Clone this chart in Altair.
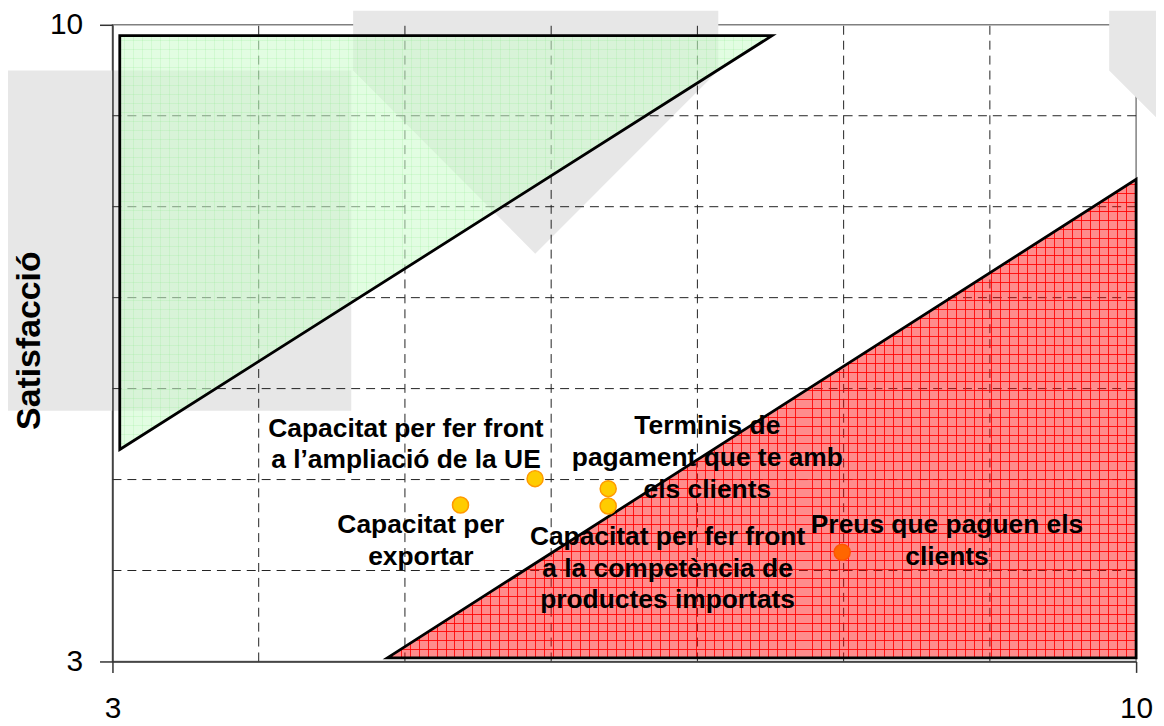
import altair as alt
import pandas as pd

# ---------------- data ----------------
x_domain = [3, 10]
y_domain = [3, 10]
axis_values = [3, 10]
grid_values = [4, 5, 6, 7, 8, 9]

point_names = [
    "Capacitat per fer front a l’ampliació de la UE",
    "Capacitat per exportar",
    "Terminis de pagament que te amb els clients",
    "Capacitat per fer front a la competència de productes importats",
    "Preus que paguen els clients",
]
point_x = [5.89, 5.38, 6.39, 6.39, 7.99]
point_y = [5.01, 4.72, 4.90, 4.71, 4.20]
point_fill = ["#FFCC00", "#FFCC00", "#FFCC00", "#FFCC00", "#FF6600"]
point_stroke = ["#FF9900", "#FF9900", "#FF9900", "#FF9900", "#FF5500"]

label_text = [
    "Capacitat per fer front\na l’ampliació de la UE",
    "Capacitat per\nexportar",
    "Terminis de\npagament que te amb\nels clients",
    "Capacitat per fer front\na la competència de\nproductes importats",
    "Preus que paguen els\nclients",
]
# position of the first line of each label
label_x = [5.007, 5.109, 7.068, 6.796, 8.707]
label_y = [5.56, 4.50, 5.59, 4.37, 4.50]

# zones
green_x = [3.05, 7.51]
green_y = [5.33, 9.88]
green_y2 = [9.88, 9.88]

red_x = [4.88, 10.0]
red_y = [3.04, 8.30]
red_y2 = [3.04, 3.04]

# background watermark shapes
wm_rect_x, wm_rect_x2 = [2.286], [4.633]
wm_rect_y, wm_rect_y2 = [9.497], [5.756]
wm_chev_x = [4.646, 5.891, 7.143]
wm_chev_y = [9.497, 7.484, 9.497]
wm_chev_y2 = [10.153, 10.153, 10.153]
wm_right_x = [9.816, 10.15]
wm_right_y = [9.497, 8.961]
wm_right_y2 = [10.153, 10.153]

# ---------------- helpers ----------------
FONT = "Liberation Sans"
xscale = alt.Scale(domain=x_domain, nice=False, zero=False)
yscale = alt.Scale(domain=y_domain, nice=False, zero=False)
xaxis = alt.Axis(values=axis_values, title=None, grid=False, tickSize=11,
                 tickColor="#333333", tickWidth=1.5, domainColor="#333333",
                 domainWidth=1.5, labelFontSize=30, labelFont=FONT,
                 labelColor="#000000", labelPadding=21, labelFlush=False,
                 zindex=1)
yaxis = alt.Axis(values=axis_values, title="Satisfacció", grid=False, tickSize=13,
                 tickColor="#333333", tickWidth=1.5, domainColor="#333333",
                 domainWidth=1.5, labelFontSize=30, labelFont=FONT,
                 labelColor="#000000", labelPadding=17, labelFlush=False,
                 titleFont=FONT, titleFontSize=34, titleFontWeight="bold",
                 titleColor="#000000", titleX=-83, titleY=317, titleAngle=270,
                 titleAlign="center", titleBaseline="middle", zindex=1)


def X(f):
    return alt.X(f, type="quantitative", scale=xscale, axis=xaxis)


def Y(f):
    return alt.Y(f, type="quantitative", scale=yscale, axis=yaxis)


def stripes(n_px, spacing, base, line, horizontal):
    stops = [alt.GradientStop(color=base, offset=0)]
    w = 1.0 / n_px
    p = spacing / 2.0
    while p < n_px - 1:
        a = p / n_px
        stops += [alt.GradientStop(color=base, offset=a),
                  alt.GradientStop(color=line, offset=a),
                  alt.GradientStop(color=line, offset=a + w),
                  alt.GradientStop(color=base, offset=a + w)]
        p += spacing
    stops.append(alt.GradientStop(color=base, offset=1))
    if horizontal:
        return alt.LinearGradient(gradient="linear", stops=stops, x1=0, x2=1, y1=0, y2=0)
    return alt.LinearGradient(gradient="linear", stops=stops, x1=0, x2=0, y1=0, y2=1)


WM = "#E7E7E7"

# ---------------- layers ----------------
wm_rect = alt.Chart(pd.DataFrame({"x": wm_rect_x, "x2": wm_rect_x2,
                                  "y": wm_rect_y, "y2": wm_rect_y2})).mark_rect(
    color=WM).encode(x=X("x"), x2="x2", y=Y("y"), y2="y2")

wm_chev = alt.Chart(pd.DataFrame({"x": wm_chev_x, "y": wm_chev_y,
                                  "y2": wm_chev_y2})).mark_area(
    color=WM).encode(x=X("x"), y=Y("y"), y2="y2")

wm_right = alt.Chart(pd.DataFrame({"x": wm_right_x, "y": wm_right_y,
                                   "y2": wm_right_y2})).mark_area(
    color=WM).encode(x=X("x"), y=Y("y"), y2="y2")

grid_df = pd.DataFrame({"v": grid_values,
                        "lo_x": [x_domain[0]] * len(grid_values),
                        "hi_x": [x_domain[1]] * len(grid_values),
                        "lo_y": [y_domain[0]] * len(grid_values),
                        "hi_y": [y_domain[1]] * len(grid_values)})
vgrid = alt.Chart(grid_df).mark_rule(color="#222222", strokeWidth=1,
                                     strokeDash=[9, 6]).encode(
    x=X("v"), y=Y("lo_y"), y2="hi_y")
hgrid = alt.Chart(grid_df).mark_rule(color="#222222", strokeWidth=1,
                                     strokeDash=[9, 6]).encode(
    y=Y("v"), x=X("lo_x"), x2="hi_x")

green_df = pd.DataFrame({"x": green_x, "y": green_y, "y2": green_y2})
green_base = alt.Chart(green_df).mark_area(
    fill="#CCFCCC", fillOpacity=0.57).encode(x=X("x"), y=Y("y"), y2="y2")
green_v = alt.Chart(green_df).mark_area(
    fill=stripes(656, 9, "rgba(0,0,0,0)", "rgba(120,230,120,0.16)", True)).encode(
    x=X("x"), y=Y("y"), y2="y2")
green_h = alt.Chart(green_df).mark_area(
    fill=stripes(416, 9, "rgba(0,0,0,0)", "rgba(120,230,120,0.16)", False)).encode(
    x=X("x"), y=Y("y"), y2="y2")
green_line = alt.Chart(green_df).mark_area(
    fillOpacity=0, stroke="#000000", strokeWidth=2.8, strokeJoin="miter").encode(
    x=X("x"), y=Y("y"), y2="y2")

red_df = pd.DataFrame({"x": red_x, "y": red_y, "y2": red_y2})
red_base = alt.Chart(red_df).mark_area(
    fill="#FF0000", fillOpacity=0.45).encode(x=X("x"), y=Y("y"), y2="y2")
red_v = alt.Chart(red_df).mark_area(
    fill=stripes(753, 9, "rgba(255,0,0,0)", "rgba(255,0,0,0.85)", True)).encode(
    x=X("x"), y=Y("y"), y2="y2")
red_h = alt.Chart(red_df).mark_area(
    fill=stripes(481, 9, "rgba(255,0,0,0)", "rgba(255,0,0,0.85)", False)).encode(
    x=X("x"), y=Y("y"), y2="y2")
red_line = alt.Chart(red_df).mark_area(
    fillOpacity=0, stroke="#000000", strokeWidth=2.8, strokeJoin="miter").encode(
    x=X("x"), y=Y("y"), y2="y2")

pts_df = pd.DataFrame({"name": point_names, "x": point_x, "y": point_y,
                       "fill": point_fill, "stroke": point_stroke})
points = alt.Chart(pts_df).mark_circle(size=260, opacity=1, strokeWidth=1.5).encode(
    x=X("x"), y=Y("y"),
    fill=alt.Fill("fill:N", scale=None),
    stroke=alt.Stroke("stroke:N", scale=None))

lab_df = pd.DataFrame({"t": label_text, "x": label_x, "y": label_y})
labels = alt.Chart(lab_df).mark_text(
    font=FONT, fontSize=26.5, fontWeight="bold", lineBreak="\n", lineHeight=32,
    align="center", baseline="middle", color="#000000").encode(
    x=X("x"), y=Y("y"), text="t:N")

chart = alt.layer(
    wm_rect, wm_chev, wm_right, vgrid, hgrid,
    green_base, green_v, green_h, green_line,
    red_base, red_v, red_h, red_line,
    points, labels,
).properties(
    width=1029, height=640,
    autosize=alt.AutoSizeParams(type="none"),
    padding={"left": 105, "top": 15, "right": 20, "bottom": 63},
    background="#FFFFFF",
).configure_view(stroke="#808080", strokeWidth=1.5)

chart.save("out.html", embed_options={"renderer": "svg", "actions": False})
